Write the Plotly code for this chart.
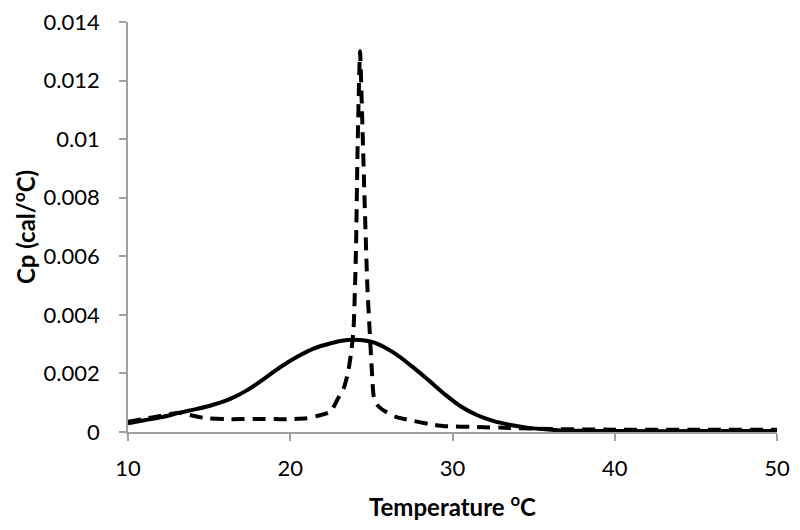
import plotly.graph_objects as go

# solid curve (broad transition)
solid_t = [10, 11, 12, 13.2, 14.2, 15.25, 16.3, 17.35, 18.4, 19.4, 20.4, 21.4, 22.5, 23.5,
           24.3, 25.3, 26.4, 27.5, 28.5, 29.5, 30.5, 31.5, 32.5, 33.5, 34.6,
           35.5, 36.5, 38, 40, 45, 50]
solid_cp = [0.0003, 0.0004, 0.0005, 0.00066, 0.00078, 0.00093, 0.00113, 0.00143, 0.00182, 0.00222,
            0.00256, 0.00284, 0.00303, 0.00314,
            0.00314, 0.00303, 0.0027, 0.00224, 0.00178, 0.0013, 0.00088, 0.00058, 0.00038, 0.00025, 0.00015,
            0.0001, 0.00006, 0.00004, 0.00003, 0.00003, 0.00003]

# dashed curve (sharp transition)
dash_t = [10, 11, 12, 12.7, 13.2, 13.8, 14.5, 15, 16, 17, 18, 19, 20, 21, 21.9, 22.5,
          22.9, 23.3, 23.55, 23.75, 23.9, 24.05, 24.15, 24.3, 24.42, 24.55, 24.75, 24.9,
          25.05, 25.15, 25.4, 25.8, 26.5, 27.4, 28.5, 29.5, 31.5, 33.5, 36, 40, 45, 50]
dash_cp = [0.00035, 0.00045, 0.00055, 0.00062, 0.00066, 0.00058, 0.0005, 0.00046, 0.00044, 0.00044,
           0.00044, 0.00044, 0.00044, 0.00047, 0.00058, 0.0007,
           0.0011, 0.0015, 0.002, 0.0027, 0.0035, 0.0062, 0.0097, 0.0130, 0.0110, 0.0085, 0.0050, 0.0034,
           0.0019, 0.0012, 0.0009, 0.00072, 0.00052,
           0.0004, 0.00028, 0.0002, 0.00017, 0.00014, 0.0001, 0.00008, 0.00008, 0.00008]

x_ticks = [10, 20, 30, 40, 50]
y_ticks = [0, 0.002, 0.004, 0.006, 0.008, 0.01, 0.012, 0.014]
y_labels = ["0", "0.002", "0.004", "0.006", "0.008", "0.01", "0.012", "0.014"]

fig = go.Figure()

fig.add_trace(go.Scatter(
    x=solid_t, y=solid_cp, mode="lines",
    line=dict(color="black", width=4, shape="spline", smoothing=1.0),
    showlegend=False
))
fig.add_trace(go.Scatter(
    x=dash_t, y=dash_cp, mode="lines",
    line=dict(color="black", width=4, dash="13px,8px", shape="spline", smoothing=0.5),
    showlegend=False
))

title_font = dict(family="Lato, sans-serif", size=24, color="black")

# page body adds an 8px offset, margins compensate for it
fig.update_layout(
    width=800, height=530,
    margin=dict(l=120, r=31, t=14, b=106, autoexpand=False),
    paper_bgcolor="white", plot_bgcolor="white",
    font=dict(family="Lato, sans-serif", size=22, color="black"),
)

fig.update_xaxes(
    range=[10, 50], tickvals=x_ticks, ticktext=[str(v) for v in x_ticks],
    showgrid=False, zeroline=False, automargin=False,
    showline=True, linecolor="#a0a0a0", linewidth=1.5,
    ticks="outside", ticklen=7, tickcolor="#a0a0a0", tickwidth=1.5,
    ticklabelstandoff=9, ticklabeloverflow="allow",
    title=dict(text="<b>Temperature <sup>o</sup>C</b>", standoff=19, font=title_font),
)
fig.update_yaxes(
    range=[0, 0.0140001], tickvals=y_ticks, ticktext=y_labels,
    showgrid=False, zeroline=False, automargin=False,
    showline=True, linecolor="#a0a0a0", linewidth=1.5,
    ticks="outside", ticklen=7, tickcolor="#a0a0a0", tickwidth=1.5,
    ticklabelstandoff=15, ticklabeloverflow="allow",
    title=dict(text="<b>Cp (cal/<sup>o</sup>C)</b>", standoff=11, font=title_font),
)

fig.write_html("out.html")
